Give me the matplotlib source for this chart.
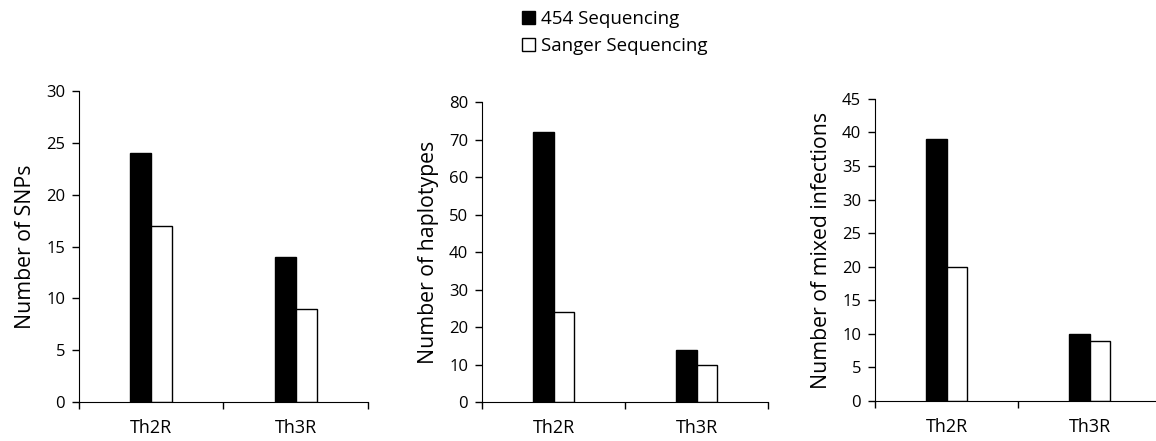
import matplotlib
matplotlib.use("Agg")
import matplotlib.pyplot as plt
from matplotlib.patches import Patch

plt.rcParams['font.family'] = ['Open Sans', 'DejaVu Sans']

categories = ["Th2R", "Th3R"]
series_names = ["454 Sequencing", "Sanger Sequencing"]

snps_454 = [24, 14]
snps_sanger = [17, 9]
haplo_454 = [72, 14]
haplo_sanger = [24, 10]
mixed_454 = [39, 10]
mixed_sanger = [20, 9]

panels = [
    ("Number of SNPs", snps_454, snps_sanger, 30, 5, [0.0683, 0.0884, 0.250, 0.705]),
    ("Number of haplotypes", haplo_454, haplo_sanger, 80, 10, [0.417, 0.0884, 0.2474, 0.680]),
    ("Number of mixed infections", mixed_454, mixed_sanger, 45, 5, [0.757, 0.0907, 0.2474, 0.685]),
]

fig = plt.figure(figsize=(11.56, 4.41), dpi=100)

w = 0.145
x = [0, 1]
for ylabel, v1, v2, ymax, step, pos in panels:
    ax = fig.add_axes(pos)
    ax.bar([i - w / 2 for i in x], v1, width=w, color="black", edgecolor="black", linewidth=1)
    ax.bar([i + w / 2 for i in x], v2, width=w, color="white", edgecolor="black", linewidth=1)
    ax.set_xlim(-0.5, 1.5)
    ax.set_ylim(0, ymax)
    ax.set_yticks(range(0, ymax + 1, step))
    ax.set_xticks([-0.5, 0.5, 1.5])
    ax.set_xticklabels([])
    ax.set_xticks(x, minor=True)
    ax.set_xticklabels(categories, minor=True, fontsize=13)
    ax.tick_params(axis="x", which="minor", length=0, pad=12)
    ax.tick_params(axis="x", which="major", length=5, direction="out", width=1)
    ax.tick_params(axis="y", length=5, direction="out", width=1, labelsize=12, pad=5)
    ax.spines["top"].set_visible(False)
    ax.spines["right"].set_visible(False)
    ax.set_ylabel(ylabel, fontsize=15.3, labelpad=7)

handles = [Patch(facecolor="black", edgecolor="black"),
           Patch(facecolor="white", edgecolor="black")]
fig.legend(handles, series_names, loc="upper left", bbox_to_anchor=(0.437, 1.015),
           frameon=False, fontsize=13.5, handlelength=0.7, handleheight=0.7,
           handletextpad=0.3, labelspacing=0.45)

fig.savefig("out.png", dpi=100)
